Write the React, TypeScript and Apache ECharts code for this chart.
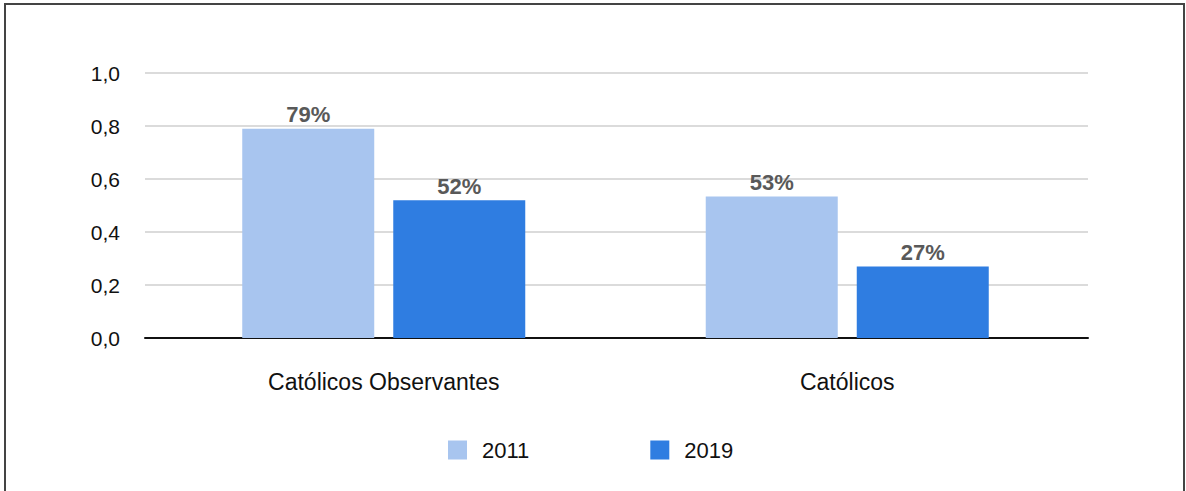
import React, { useEffect, useRef } from "react";
import * as echarts from "echarts";

const categories = ["Católicos Observantes", "Católicos"];
const seriesNames = ["2011", "2019"];
const values2011 = [0.79, 0.534];
const values2019 = [0.52, 0.27];
const colors = ["#a8c5ef", "#2f7de1"];

export default function App() {
  const ref = useRef<HTMLDivElement>(null);
  useEffect(() => {
    document.body.style.margin = "0";
    const chart = echarts.init(ref.current!, null, { renderer: "svg" });
    const font = "'Liberation Sans', Arial, Helvetica, sans-serif";
    const label = {
      show: true,
      position: "top",
      distance: 3,
      fontFamily: font,
      fontSize: 22,
      fontWeight: "bold",
      color: "#595959",
      formatter: (p: any) => Math.round(p.value * 100) + "%",
    };
    chart.setOption({
      animation: false,
      textStyle: { fontFamily: font },
      graphic: [
        {
          type: "rect",
          shape: { x: 5, y: 4, width: 1179, height: 520 },
          style: { fill: "none", stroke: "#444", lineWidth: 2 },
          silent: true,
        },
      ],
      grid: [
        { left: 152, right: 107, top: 73, bottom: 153, containLabel: false },
        { left: 145, right: 98, top: 73, bottom: 153, containLabel: false },
      ],
      legend: {
        left: 448,
        top: 439,
        padding: 0,
        icon: "rect",
        itemWidth: 19,
        itemHeight: 19,
        itemGap: 121,
        textStyle: { fontFamily: font, fontSize: 22, color: "#111", padding: [0, 0, 0, 10] },
        data: seriesNames,
      },
      xAxis: [
        {
          type: "category",
          gridIndex: 0,
          data: categories,
          axisLine: { show: false },
          axisTick: { show: false },
          axisLabel: { fontFamily: font, fontSize: 23, color: "#111", margin: 32 },
        },
        {
          type: "value",
          gridIndex: 1,
          min: 0,
          max: 1,
          axisLine: { show: true, onZero: false, lineStyle: { color: "#111", width: 2 } },
          axisTick: { show: false },
          axisLabel: { show: false },
          splitLine: { show: false },
        },
      ],
      yAxis: [
        {
          type: "value",
          gridIndex: 0,
          min: 0,
          max: 1,
          interval: 0.2,
          show: false,
          splitLine: { show: false },
        },
        {
          type: "value",
          gridIndex: 1,
          min: 0,
          max: 1,
          interval: 0.2,
          axisLine: { show: false },
          axisTick: { show: false },
          axisLabel: {
            fontFamily: font,
            fontSize: 21,
            color: "#111",
            margin: 25,
            formatter: (v: number) => v.toFixed(1).replace(".", ","),
          },
          splitLine: { lineStyle: { color: "#cfcfcf", width: 1.5 } },
        },
      ],
      series: [
        {
          name: seriesNames[0],
          type: "bar",
          xAxisIndex: 0,
          yAxisIndex: 0,
          data: values2011,
          itemStyle: { color: colors[0] },
          barWidth: 132,
          barGap: "14.4%",
          label,
          z: 3,
        },
        {
          name: seriesNames[1],
          type: "bar",
          xAxisIndex: 0,
          yAxisIndex: 0,
          data: values2019,
          itemStyle: { color: colors[1] },
          barWidth: 132,
          barGap: "14.4%",
          label,
          z: 3,
        },
      ],
    });
    return () => chart.dispose();
  }, []);
  return <div ref={ref} style={{ width: 1186, height: 491 }} />;
}
